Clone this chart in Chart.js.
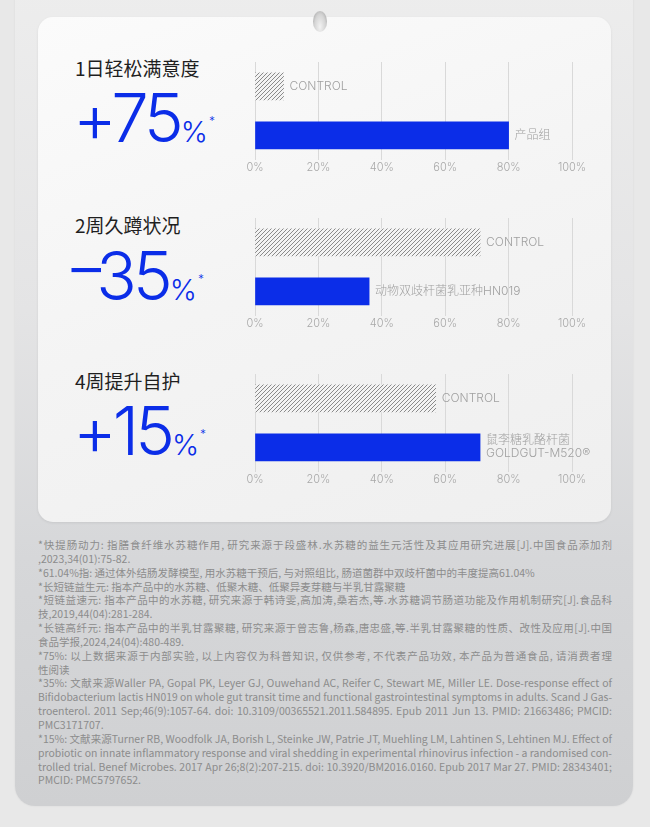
<html>
<head>
<meta charset="utf-8">
<style>
  html, body { margin: 0; padding: 0; }
  body { width: 650px; height: 827px; position: relative; overflow: hidden; background: #e8e8e8; font-family: "Noto Sans CJK SC", sans-serif; }
  .outer { position: absolute; left: 15px; top: -20px; width: 618px; height: 826px; border-radius: 0 0 20px 20px;
           background: linear-gradient(#ededed 0%, #e4e4e5 40%, #d6d7d9 70%, #cfd0d2 100%); box-shadow: 0 0 2px rgba(0,0,0,0.08); }
  .card { position: absolute; left: 38px; top: 17px; width: 573px; height: 505px; border-radius: 15px;
          background: linear-gradient(160deg, #fbfbfb 0%, #f4f4f4 50%, #efefef 100%); box-shadow: 0 1px 3px rgba(0,0,0,0.08); }
  .hole { position: absolute; left: 313px; top: 11px; width: 14px; height: 21px; border-radius: 50%;
          background: radial-gradient(ellipse at 50% 75%, #f2f2f2 0%, #d4d4d4 55%, #9a9a9a 100%); }
  .title { position: absolute; left: 75px; font-size: 19px; line-height: 19px; color: #1f1f1f; white-space: nowrap; }
  .big { position: absolute; left: 73px; font-family: Inter, Lato, sans-serif; font-weight: 300; color: #0b2de8;
         font-size: 67px; line-height: 67px; letter-spacing: -4px; white-space: nowrap; }
  .big .dash { display: inline-block; position: relative; top: -9px; left: -2px; letter-spacing: 0; margin-right: -7px; transform: scaleX(1.45); }
  .big .pc { font-size: 29px; letter-spacing: 0; margin-left: 1px; }
  .big .st { font-size: 12px; letter-spacing: 0; position: relative; top: -17px; margin-left: 1px; }
  canvas { position: absolute; }
  .fn { position: absolute; left: 38px; top: 538px; width: 574px; font-size: 10.5px; line-height: 13.85px; color: #8c8c8c; }
  .ln { white-space: nowrap; transform-origin: 0 0; }
</style>
</head>
<body>
<div class="outer"></div>
<div class="card"></div>
<div class="hole"></div>

<div class="title" style="top:58px">1日轻松满意度</div>
<div class="big" style="top:84px">+75<span class="pc">%</span><span class="st">*</span></div>
<div class="title" style="top:215px">2周久蹲状况</div>
<div class="big" style="top:242px"><span class="dash">-</span>35<span class="pc">%</span><span class="st">*</span></div>
<div class="title" style="top:371px">4周提升自护</div>
<div class="big" style="top:397px">+15<span class="pc">%</span><span class="st">*</span></div>

<canvas id="c1" width="370" height="119" style="left:240px; top:56px"></canvas>
<canvas id="c2" width="370" height="119" style="left:240px; top:212px"></canvas>
<canvas id="c3" width="370" height="119" style="left:240px; top:368px"></canvas>

<div class="fn">
  <div class="ln j"><span>*快提肠动力: 指膳食纤维水苏糖作用, 研究来源于段盛林.水苏糖的益生元活性及其应用研究进展[J].中国食品添加剂</span></div>
  <div class="ln"><span>,2023,34(01):75-82.</span></div>
  <div class="ln"><span>*61.04%指: 通过体外结肠发酵模型, 用水苏糖干预后, 与对照组比, 肠道菌群中双歧杆菌中的丰度提高61.04%</span></div>
  <div class="ln"><span>*长短链益生元: 指本产品中的水苏糖、低聚木糖、低聚异麦芽糖与半乳甘露聚糖</span></div>
  <div class="ln j"><span>*短链益速元: 指本产品中的水苏糖, 研究来源于韩诗雯,高加涛,桑若杰,等.水苏糖调节肠道功能及作用机制研究[J].食品科</span></div>
  <div class="ln"><span>技,2019,44(04):281-284.</span></div>
  <div class="ln j"><span>*长链高纤元: 指本产品中的半乳甘露聚糖, 研究来源于曾志鲁,杨森,唐忠盛,等.半乳甘露聚糖的性质、改性及应用[J].中国</span></div>
  <div class="ln"><span>食品学报,2024,24(04):480-489.</span></div>
  <div class="ln j"><span>*75%: 以上数据来源于内部实验, 以上内容仅为科普知识, 仅供参考, 不代表产品功效, 本产品为普通食品, 请消费者理</span></div>
  <div class="ln"><span>性阅读</span></div>
  <div class="ln j"><span>*35%: 文献来源Waller PA, Gopal PK, Leyer GJ, Ouwehand AC, Reifer C, Stewart ME, Miller LE. Dose-response effect of</span></div>
  <div class="ln j"><span>Bifidobacterium lactis HN019 on whole gut transit time and functional gastrointestinal symptoms in adults. Scand J Gas-</span></div>
  <div class="ln j"><span>troenterol. 2011 Sep;46(9):1057-64. doi: 10.3109/00365521.2011.584895. Epub 2011 Jun 13. PMID: 21663486; PMCID:</span></div>
  <div class="ln"><span>PMC3171707.</span></div>
  <div class="ln j"><span>*15%: 文献来源Turner RB, Woodfolk JA, Borish L, Steinke JW, Patrie JT, Muehling LM, Lahtinen S, Lehtinen MJ. Effect of</span></div>
  <div class="ln j"><span>probiotic on innate inflammatory response and viral shedding in experimental rhinovirus infection - a randomised con-</span></div>
  <div class="ln j"><span>trolled trial. Benef Microbes. 2017 Apr 26;8(2):207-215. doi: 10.3920/BM2016.0160. Epub 2017 Mar 27. PMID: 28343401;</span></div>
  <div class="ln"><span>PMCID: PMC5797652.</span></div>
</div>

<script src="https://cdn.jsdelivr.net/npm/chart.js@4.4.0/dist/chart.umd.min.js"></script>
<script>
// values (percent)
const cats1 = ['CONTROL', '产品组'];
const vals1 = [9, 80];
const cats2 = ['CONTROL', '动物双歧杆菌乳亚种HN019'];
const vals2 = [71, 36];
const cats3 = ['CONTROL', ['鼠李糖乳酪杆菌', 'GOLDGUT-M520®']];
const vals3 = [57, 71];
const xTicks = [0, 20, 40, 60, 80, 100];

// fit footnote lines to the box width
const FW = 574;
for (const d of document.querySelectorAll('.ln')) {
  const w = d.firstElementChild.getBoundingClientRect().width;
  if (w > FW) { d.style.width = w + 'px'; d.style.transform = 'scaleX(' + (FW / w) + ')'; }
  else if (d.classList.contains('j')) d.style.textAlignLast = 'justify';
}

function hatch() {
  const c = document.createElement('canvas');
  c.width = 4; c.height = 4;
  const g = c.getContext('2d');
  g.fillStyle = '#f3f3f3';
  g.fillRect(0, 0, 4, 4);
  g.strokeStyle = '#8a8a8a';
  g.lineWidth = 1;
  g.beginPath();
  g.moveTo(0, 4); g.lineTo(4, 0);
  g.moveTo(-1, 1); g.lineTo(1, -1);
  g.moveTo(3, 5); g.lineTo(5, 3);
  g.stroke();
  return g.createPattern(c, 'repeat');
}

// category name written right after each bar
const barLabels = {
  id: 'barLabels',
  afterDatasetsDraw(chart) {
    const ctx = chart.ctx;
    const meta = chart.getDatasetMeta(0);
    ctx.save();
    ctx.fillStyle = '#a0a0a0';
    ctx.font = '300 12px Inter, "Noto Sans CJK SC", sans-serif';
    ctx.textBaseline = 'middle';
    meta.data.forEach((bar, i) => {
      const lab = chart.data.labels[i];
      const lines = Array.isArray(lab) ? lab : [lab];
      lines.forEach((t, k) => {
        const y = bar.y + (k - (lines.length - 1) / 2) * 13;
        ctx.fillText(t, bar.x + 6, y);
      });
    });
    ctx.restore();
  }
};

function makeChart(id, cats, vals) {
  return new Chart(document.getElementById(id), {
    type: 'bar',
    data: {
      labels: cats,
      datasets: [{
        data: vals,
        backgroundColor: [hatch(), '#0b2de8'],
        barThickness: 27,
        borderWidth: 0
      }]
    },
    options: {
      indexAxis: 'y',
      responsive: false,
      animation: false,
      devicePixelRatio: 1,
      layout: { padding: { left: 15, right: 38, top: 6, bottom: 0 } },
      plugins: { legend: { display: false }, tooltip: { enabled: false } },
      scales: {
        x: {
          min: 0, max: 100,
          afterBuildTicks: (s) => { s.ticks = xTicks.map(v => ({ value: v })); },
          grid: { color: '#d9d9d9', lineWidth: 1, drawTicks: false },
          border: { display: false },
          ticks: {
            padding: 1,
            color: '#a8a8a8',
            font: { family: 'Inter', size: 11, weight: 300 },
            callback: (v) => v + '%'
          }
        },
        y: { display: false }
      }
    },
    plugins: [barLabels]
  });
}

makeChart('c1', cats1, vals1);
makeChart('c2', cats2, vals2);
makeChart('c3', cats3, vals3);
</script>
</body>
</html>
